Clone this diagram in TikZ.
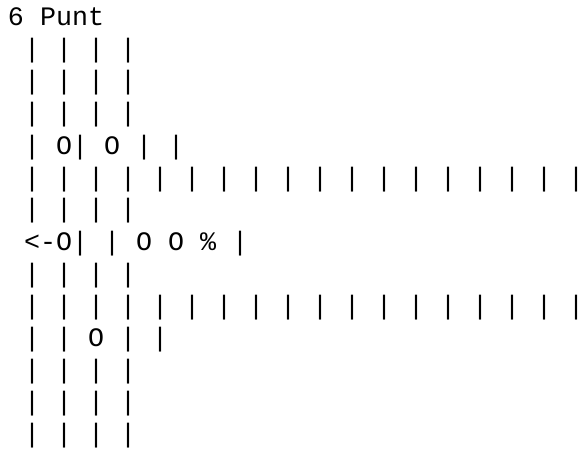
\documentclass[tikz,border=0pt]{standalone}
\usepackage{fontspec}
\newfontfamily\asciimono{Liberation Mono}
\begin{document}
\begin{tikzpicture}[x=1pt,y=1pt,
  artline/.style={anchor=base west,inner sep=0pt,outer sep=0pt,
    font=\asciimono\fontsize{26.67pt}{32pt}\selectfont,text=black}]
\useasboundingbox[fill=white] (0,0) rectangle (582,-452);
\node[artline] (l0)  at (8,-26)  {6~Punt};
\node[artline] (l1)  at (8,-58)  {~|~|~|~|};
\node[artline] (l2)  at (8,-90)  {~|~|~|~|};
\node[artline] (l3)  at (8,-122) {~|~|~|~|};
\node[artline] (l4)  at (8,-154) {~|~O|~O~|~|};
\node[artline] (l5)  at (8,-186) {~|~|~|~|~|~|~|~|~|~|~|~|~|~|~|~|~|~\rlap{|}};
\node[artline] (l6)  at (8,-218) {~|~|~|~|};
\node[artline] (l7)  at (8,-250) {~<-O|~|~O~O~\%~|};
\node[artline] (l8)  at (8,-282) {~|~|~|~|};
\node[artline] (l9)  at (8,-314) {~|~|~|~|~|~|~|~|~|~|~|~|~|~|~|~|~|~\rlap{|}};
\node[artline] (l10) at (8,-346) {~|~|~O~|~|};
\node[artline] (l11) at (8,-378) {~|~|~|~|};
\node[artline] (l12) at (8,-410) {~|~|~|~|};
\node[artline] (l13) at (8,-442) {~|~|~|~|};
\end{tikzpicture}
\end{document}
